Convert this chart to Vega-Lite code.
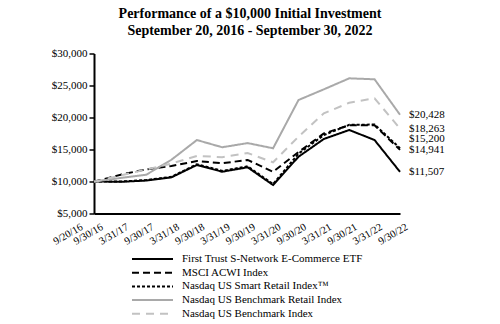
{
  "$schema": "https://vega.github.io/schema/vega-lite/v6.json",
  "width": 306,
  "height": 160,
  "autosize": {"type": "none"},
  "padding": {"left": 94, "top": 53.5, "right": 100, "bottom": 110.5},
  "background": "white",
  "title": {
    "text": ["Performance of a $10,000 Initial Investment", "September 20, 2016 - September 30, 2022"],
    "font": "Liberation Serif",
    "fontSize": 14,
    "fontWeight": "bold",
    "color": "black",
    "anchor": "middle",
    "frame": "group",
    "offset": 10,
    "lineHeight": 16.5,
    "dx": 3
  },
  "config": {"view": {"stroke": null}, "font": "Liberation Serif"},
  "data": {
    "values": [
      {"date": "2016-09-20", "series": "First Trust S-Network E-Commerce ETF", "value": 10000},
      {"date": "2016-09-30", "series": "First Trust S-Network E-Commerce ETF", "value": 10010},
      {"date": "2017-03-31", "series": "First Trust S-Network E-Commerce ETF", "value": 9950},
      {"date": "2017-09-30", "series": "First Trust S-Network E-Commerce ETF", "value": 10150},
      {"date": "2018-03-31", "series": "First Trust S-Network E-Commerce ETF", "value": 10650},
      {"date": "2018-09-30", "series": "First Trust S-Network E-Commerce ETF", "value": 12580},
      {"date": "2019-03-31", "series": "First Trust S-Network E-Commerce ETF", "value": 11530},
      {"date": "2019-09-30", "series": "First Trust S-Network E-Commerce ETF", "value": 12220},
      {"date": "2020-03-31", "series": "First Trust S-Network E-Commerce ETF", "value": 9450},
      {"date": "2020-09-30", "series": "First Trust S-Network E-Commerce ETF", "value": 13870},
      {"date": "2021-03-31", "series": "First Trust S-Network E-Commerce ETF", "value": 16640},
      {"date": "2021-09-30", "series": "First Trust S-Network E-Commerce ETF", "value": 18050},
      {"date": "2022-03-31", "series": "First Trust S-Network E-Commerce ETF", "value": 16480},
      {"date": "2022-09-30", "series": "First Trust S-Network E-Commerce ETF", "value": 11507},

      {"date": "2016-09-20", "series": "MSCI ACWI Index", "value": 10000},
      {"date": "2016-09-30", "series": "MSCI ACWI Index", "value": 10030},
      {"date": "2017-03-31", "series": "MSCI ACWI Index", "value": 11060},
      {"date": "2017-09-30", "series": "MSCI ACWI Index", "value": 11900},
      {"date": "2018-03-31", "series": "MSCI ACWI Index", "value": 12420},
      {"date": "2018-09-30", "series": "MSCI ACWI Index", "value": 13200},
      {"date": "2019-03-31", "series": "MSCI ACWI Index", "value": 12850},
      {"date": "2019-09-30", "series": "MSCI ACWI Index", "value": 13370},
      {"date": "2020-03-31", "series": "MSCI ACWI Index", "value": 11520},
      {"date": "2020-09-30", "series": "MSCI ACWI Index", "value": 14600},
      {"date": "2021-03-31", "series": "MSCI ACWI Index", "value": 17500},
      {"date": "2021-09-30", "series": "MSCI ACWI Index", "value": 18800},
      {"date": "2022-03-31", "series": "MSCI ACWI Index", "value": 18780},
      {"date": "2022-09-30", "series": "MSCI ACWI Index", "value": 14941},

      {"date": "2016-09-20", "series": "Nasdaq US Smart Retail Index™", "value": 10000},
      {"date": "2016-09-30", "series": "Nasdaq US Smart Retail Index™", "value": 10010},
      {"date": "2017-03-31", "series": "Nasdaq US Smart Retail Index™", "value": 9990},
      {"date": "2017-09-30", "series": "Nasdaq US Smart Retail Index™", "value": 10220},
      {"date": "2018-03-31", "series": "Nasdaq US Smart Retail Index™", "value": 10730},
      {"date": "2018-09-30", "series": "Nasdaq US Smart Retail Index™", "value": 12700},
      {"date": "2019-03-31", "series": "Nasdaq US Smart Retail Index™", "value": 11660},
      {"date": "2019-09-30", "series": "Nasdaq US Smart Retail Index™", "value": 12370},
      {"date": "2020-03-31", "series": "Nasdaq US Smart Retail Index™", "value": 9600},
      {"date": "2020-09-30", "series": "Nasdaq US Smart Retail Index™", "value": 14350},
      {"date": "2021-03-31", "series": "Nasdaq US Smart Retail Index™", "value": 17250},
      {"date": "2021-09-30", "series": "Nasdaq US Smart Retail Index™", "value": 18850},
      {"date": "2022-03-31", "series": "Nasdaq US Smart Retail Index™", "value": 18900},
      {"date": "2022-09-30", "series": "Nasdaq US Smart Retail Index™", "value": 15200},

      {"date": "2016-09-20", "series": "Nasdaq US Benchmark Retail Index", "value": 10000},
      {"date": "2016-09-30", "series": "Nasdaq US Benchmark Retail Index", "value": 10020},
      {"date": "2017-03-31", "series": "Nasdaq US Benchmark Retail Index", "value": 10550},
      {"date": "2017-09-30", "series": "Nasdaq US Benchmark Retail Index", "value": 11050},
      {"date": "2018-03-31", "series": "Nasdaq US Benchmark Retail Index", "value": 13400},
      {"date": "2018-09-30", "series": "Nasdaq US Benchmark Retail Index", "value": 16480},
      {"date": "2019-03-31", "series": "Nasdaq US Benchmark Retail Index", "value": 15350},
      {"date": "2019-09-30", "series": "Nasdaq US Benchmark Retail Index", "value": 16000},
      {"date": "2020-03-31", "series": "Nasdaq US Benchmark Retail Index", "value": 15190},
      {"date": "2020-09-30", "series": "Nasdaq US Benchmark Retail Index", "value": 22730},
      {"date": "2021-03-31", "series": "Nasdaq US Benchmark Retail Index", "value": 24400},
      {"date": "2021-09-30", "series": "Nasdaq US Benchmark Retail Index", "value": 26120},
      {"date": "2022-03-31", "series": "Nasdaq US Benchmark Retail Index", "value": 25970},
      {"date": "2022-09-30", "series": "Nasdaq US Benchmark Retail Index", "value": 20428},

      {"date": "2016-09-20", "series": "Nasdaq US Benchmark Index", "value": 10000},
      {"date": "2016-09-30", "series": "Nasdaq US Benchmark Index", "value": 10010},
      {"date": "2017-03-31", "series": "Nasdaq US Benchmark Index", "value": 10950},
      {"date": "2017-09-30", "series": "Nasdaq US Benchmark Index", "value": 11870},
      {"date": "2018-03-31", "series": "Nasdaq US Benchmark Index", "value": 12800},
      {"date": "2018-09-30", "series": "Nasdaq US Benchmark Index", "value": 14000},
      {"date": "2019-03-31", "series": "Nasdaq US Benchmark Index", "value": 13800},
      {"date": "2019-09-30", "series": "Nasdaq US Benchmark Index", "value": 14450},
      {"date": "2020-03-31", "series": "Nasdaq US Benchmark Index", "value": 13000},
      {"date": "2020-09-30", "series": "Nasdaq US Benchmark Index", "value": 17000},
      {"date": "2021-03-31", "series": "Nasdaq US Benchmark Index", "value": 20650},
      {"date": "2021-09-30", "series": "Nasdaq US Benchmark Index", "value": 22300},
      {"date": "2022-03-31", "series": "Nasdaq US Benchmark Index", "value": 23000},
      {"date": "2022-09-30", "series": "Nasdaq US Benchmark Index", "value": 18263}
    ]
  },
  "encoding": {
    "x": {
      "field": "date",
      "type": "temporal",
      "scale": {
        "type": "utc",
        "domain": [{"year": 2016, "month": 9, "date": 20, "utc": true}, {"year": 2022, "month": 9, "date": 30, "utc": true}],
        "nice": false
      },
      "axis": {
        "title": null,
        "grid": false,
        "ticks": false,
        "domainColor": "black",
        "domainWidth": 2,
        "values": [
          {"year": 2016, "month": 9, "date": 20, "utc": true},
          {"year": 2016, "month": 9, "date": 30, "utc": true},
          {"year": 2017, "month": 3, "date": 31, "utc": true},
          {"year": 2017, "month": 9, "date": 30, "utc": true},
          {"year": 2018, "month": 3, "date": 31, "utc": true},
          {"year": 2018, "month": 9, "date": 30, "utc": true},
          {"year": 2019, "month": 3, "date": 31, "utc": true},
          {"year": 2019, "month": 9, "date": 30, "utc": true},
          {"year": 2020, "month": 3, "date": 31, "utc": true},
          {"year": 2020, "month": 9, "date": 30, "utc": true},
          {"year": 2021, "month": 3, "date": 31, "utc": true},
          {"year": 2021, "month": 9, "date": 30, "utc": true},
          {"year": 2022, "month": 3, "date": 31, "utc": true},
          {"year": 2022, "month": 9, "date": 30, "utc": true}
        ],
        "labelExpr": "utcFormat(datum.value, '%-m/%-d/%y')",
        "labelAngle": -30,
        "labelFont": "Liberation Serif",
        "labelFontSize": 10.5,
        "labelColor": "black",
        "labelPadding": 8,
        "labelOverlap": false,
        "labelFlush": false,
        "labelBound": false,
        "labelOffset": {"condition": {"test": "utcdate(datum.value) == 20", "value": -15}, "value": 4}
      }
    },
    "y": {
      "field": "value",
      "type": "quantitative",
      "scale": {"domain": [5000, 30000], "nice": false, "zero": false},
      "axis": {
        "title": null,
        "grid": false,
        "values": [5000, 10000, 15000, 20000, 25000, 30000],
        "format": "$,d",
        "tickSize": 5,
        "tickWidth": 1.5,
        "tickColor": "black",
        "domainColor": "black",
        "domainWidth": 2,
        "labelFont": "Liberation Serif",
        "labelFontSize": 11,
        "labelColor": "black",
        "labelPadding": 2
      }
    }
  },
  "layer": [
    {
      "mark": {"type": "line"},
      "encoding": {
        "color": {
          "field": "series",
          "type": "nominal",
          "scale": {
            "domain": ["First Trust S-Network E-Commerce ETF", "MSCI ACWI Index", "Nasdaq US Smart Retail Index™", "Nasdaq US Benchmark Retail Index", "Nasdaq US Benchmark Index"],
            "range": ["#000000", "#000000", "#000000", "#a9a9a9", "#c2c2c2"]
          },
          "legend": {
            "orient": "none",
            "legendX": 37,
            "legendY": 199.5,
            "title": null,
            "symbolType": "stroke",
            "symbolSize": 1681,
            "symbolStrokeWidth": 2,
            "labelFont": "Liberation Serif",
            "labelFontSize": 11,
            "labelColor": "black",
            "labelLimit": 400,
            "clipHeight": 12,
            "rowPadding": 1.7,
            "labelOffset": 8,
            "padding": 0
          }
        },
        "strokeDash": {
          "field": "series",
          "type": "nominal",
          "scale": {
            "domain": ["First Trust S-Network E-Commerce ETF", "MSCI ACWI Index", "Nasdaq US Smart Retail Index™", "Nasdaq US Benchmark Retail Index", "Nasdaq US Benchmark Index"],
            "range": [[1, 0], [7, 4], [3, 2], [1, 0], [8, 6]]
          },
          "legend": {
            "orient": "none",
            "legendX": 37,
            "legendY": 199.5,
            "title": null,
            "symbolType": "stroke",
            "symbolSize": 1681,
            "symbolStrokeWidth": 2,
            "labelFont": "Liberation Serif",
            "labelFontSize": 11,
            "labelColor": "black",
            "labelLimit": 400,
            "clipHeight": 12,
            "rowPadding": 1.7,
            "labelOffset": 8,
            "padding": 0
          }
        },
        "strokeWidth": {
          "field": "series",
          "type": "nominal",
          "scale": {
            "domain": ["First Trust S-Network E-Commerce ETF", "MSCI ACWI Index", "Nasdaq US Smart Retail Index™", "Nasdaq US Benchmark Retail Index", "Nasdaq US Benchmark Index"],
            "range": [2, 2, 1.6, 1.5, 2]
          },
          "legend": null
        },
        "order": {"field": "date", "type": "temporal"}
      }
    },
    {
      "transform": [
        {"filter": "utcyear(datum.date) == 2022 && utcmonth(datum.date) == 8 && datum.series != 'Nasdaq US Smart Retail Index™'"}
      ],
      "mark": {"type": "text", "align": "left", "baseline": "middle", "dx": 9, "font": "Liberation Serif", "fontSize": 11, "color": "black"},
      "encoding": {
        "text": {"field": "value", "type": "quantitative", "format": "$,d"}
      }
    },
    {
      "transform": [
        {"filter": "utcyear(datum.date) == 2022 && utcmonth(datum.date) == 8 && datum.series == 'Nasdaq US Smart Retail Index™'"}
      ],
      "mark": {"type": "text", "align": "left", "baseline": "middle", "dx": 9, "dy": -9, "font": "Liberation Serif", "fontSize": 11, "color": "black"},
      "encoding": {
        "text": {"field": "value", "type": "quantitative", "format": "$,d"}
      }
    }
  ]
}
